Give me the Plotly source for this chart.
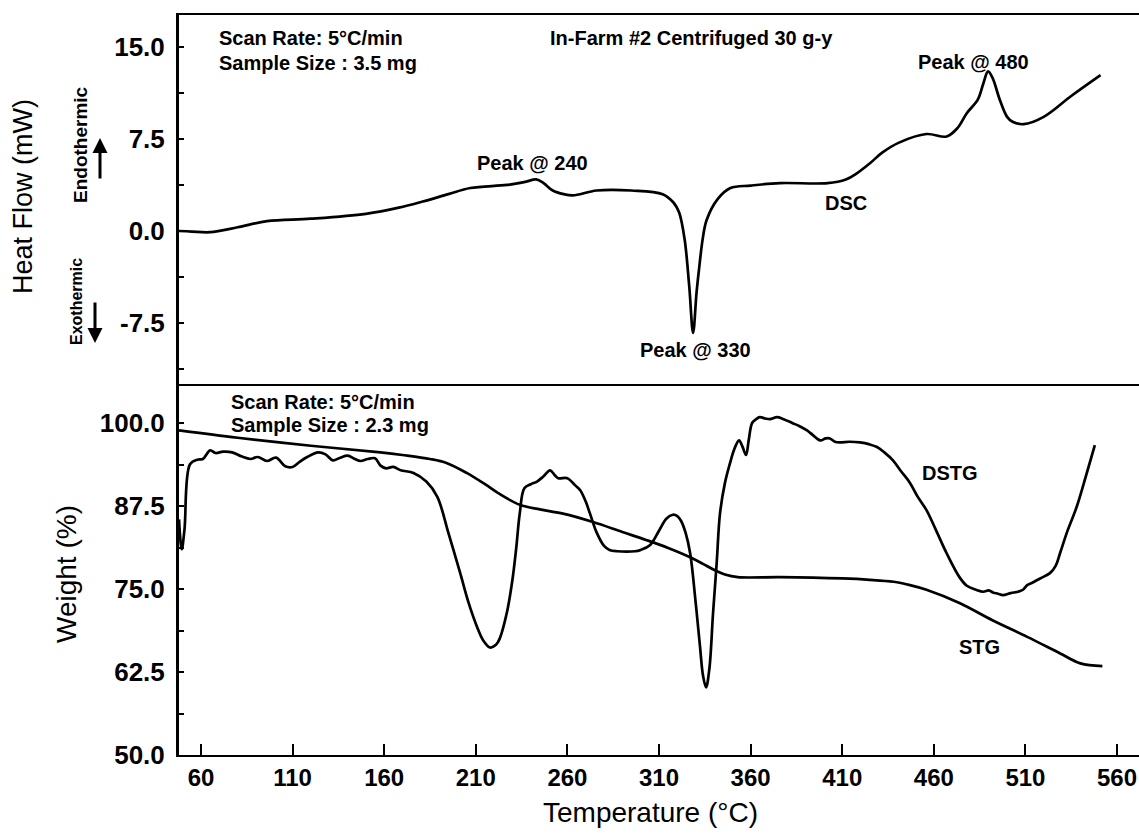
import plotly.graph_objects as go

# ---------------- data ----------------
dsc_temp = [48, 55, 65, 80, 96, 120, 150, 168, 181, 195, 207, 227, 237, 243, 247, 252, 258, 263,
            276, 295, 312, 318, 321, 324, 326.5, 328.6, 330.5, 332, 334, 336, 342, 349, 360, 376,
            402, 412, 418, 425, 432, 441, 456, 467, 473, 478, 484, 487, 489.6, 492, 496, 500, 503,
            509, 520, 535, 551]
dsc_flow = [0.0, -0.05, -0.1, 0.3, 0.8, 1.0, 1.4, 1.9, 2.4, 3.0, 3.5, 3.75, 4.0, 4.2, 3.9, 3.3, 3.0, 2.9,
            3.3, 3.3, 3.0, 2.3, 1.5, -0.7, -4.5, -8.3, -5.0, -2.9, -0.5, 0.9, 2.6, 3.5, 3.7, 3.9,
            3.9, 4.2, 4.7, 5.5, 6.4, 7.2, 7.9, 7.7, 8.4, 9.6, 10.7, 12.0, 13.0, 12.5, 10.7, 9.3, 8.9,
            8.7, 9.3, 11.0, 12.7]

stg_temp = [48, 80, 120, 158, 170, 185, 194, 205, 215, 222, 234, 245, 257, 274, 290, 303, 315, 327,
            334, 340, 346, 353, 376, 410, 425, 438, 447, 456, 474, 492, 511, 529, 540, 552]
stg_weight = [98.9, 97.8, 96.6, 95.6, 95.2, 94.6, 94.0, 92.5, 90.8, 89.5, 87.7, 87.0, 86.4, 85.1, 83.6,
              82.4, 81.2, 79.8, 78.8, 77.9, 77.2, 76.8, 76.8, 76.6, 76.4, 76.1, 75.6, 74.9, 72.9, 70.3,
              67.8, 65.3, 63.8, 63.4]

dstg_temp = [48, 49.5, 51, 54, 58, 61, 65, 68, 72, 77, 82, 87, 91, 96, 101, 106, 110, 114, 118, 124,
             128, 132, 136, 140, 144, 147, 151, 155, 158, 161, 165, 169, 176, 183, 189, 195, 201.5,
             206, 210.7, 214, 217.8, 221, 223, 227, 230, 232, 234, 236.5, 240, 243.4, 247, 250.5,
             253, 255, 260, 264, 267, 270, 272.3, 276, 280, 283, 287, 297, 300, 305, 310, 314,
             317.6, 320, 322, 324.5, 327, 330, 332.4, 334, 335.7, 337.5, 339.5, 341.5, 343.3, 346,
             348.8, 351, 353.7, 355.5, 357.5, 359, 360.8, 363, 365, 368, 370.6, 374.4, 378, 383,
             387, 390.8, 394, 398, 401, 403.3, 406, 408.8, 414, 419.7, 425, 429, 433, 437.7, 442,
             447, 451, 456, 461, 467, 474, 478, 483, 487, 490, 492.3, 495, 497.7, 502, 506, 508.7,
             511, 514, 518, 523.4, 526.5, 528.9, 533, 538, 543, 547.9]
dstg_value = [85.5, 81.0, 84.0, 93.8, 94.5, 94.6, 95.9, 95.5, 95.7, 95.6, 95.0, 94.6, 94.9, 94.3, 94.8,
              93.5, 93.4, 94.2, 94.9, 95.6, 95.3, 94.4, 94.8, 95.1, 94.6, 94.3, 94.6, 94.7, 93.6,
              93.2, 93.4, 92.9, 92.5, 91.2, 88.9, 83.5, 77.4, 73.0, 69.3, 67.3, 66.2, 66.6, 67.5,
              71.5, 76.4, 81.0, 86.4, 90.2, 90.8, 91.2, 92.0, 92.9, 92.2, 91.7, 91.7, 90.7, 89.9,
              88.2, 86.4, 83.5, 81.5, 80.9, 80.7, 80.7, 80.9, 81.6, 83.8, 85.6, 86.2, 86.0, 85.3,
              83.5, 80.4, 73.0, 66.3, 62.0, 60.2, 63.0, 71.4, 79.0, 86.4, 91.0, 94.0, 96.0, 97.4,
              96.5, 95.2, 97.5, 100.0, 100.6, 100.9, 100.7, 100.6, 100.9, 100.6, 100.0, 99.5, 98.9,
              98.2, 97.4, 97.7, 97.7, 97.2, 97.1, 97.2, 97.1, 96.8, 96.4, 95.6, 94.4, 92.8, 91.0,
              89.0, 86.9, 84.0, 80.4, 76.8, 75.5, 74.9, 74.6, 74.8, 74.5, 74.3, 74.1, 74.4, 74.6,
              74.9, 75.6, 76.0, 76.6, 77.4, 78.5, 80.4, 83.8, 87.4, 92.0, 96.7]

x_ticks = [60, 110, 160, 210, 260, 310, 360, 410, 460, 510, 560]
heat_ticks = [-7.5, 0.0, 7.5, 15.0]
heat_tick_labels = ["-7.5", "0.0", "7.5", "15.0"]
heat_minor = [-11.25, -3.75, 3.75, 11.25]
weight_ticks = [50.0, 62.5, 75.0, 87.5, 100.0]
weight_tick_labels = ["50.0", "62.5", "75.0", "87.5", "100.0"]
weight_minor = [56.25, 68.75, 81.25, 93.75]

# ---------------- figure ----------------
FONT = "Liberation Sans, Arial, sans-serif"
W, H = 1139, 835
L, R, T, B = 179, 0, 15, 80
split = 371 / 740

fig = go.Figure()
line_style = dict(color="black", width=2.7)
fig.add_trace(go.Scatter(x=dsc_temp, y=dsc_flow, mode="lines", line=line_style,
                         line_shape="spline", xaxis="x2", yaxis="y2", showlegend=False))
fig.add_trace(go.Scatter(x=stg_temp, y=stg_weight, mode="lines", line=line_style,
                         line_shape="spline", xaxis="x", yaxis="y", showlegend=False))
fig.add_trace(go.Scatter(x=dstg_temp, y=dstg_value, mode="lines", line=line_style,
                         line_shape="spline", xaxis="x", yaxis="y", showlegend=False))

xtickfont = dict(family=FONT, size=24, color="black", weight="bold")
ytickfont = dict(family=FONT, size=26, color="black", weight="bold")
minor_style = dict(ticks="inside", ticklen=5, tickwidth=2, tickcolor="black")

fig.update_layout(
    width=W, height=H,
    margin=dict(l=L, r=R, t=T, b=B, autoexpand=False),
    paper_bgcolor="white", plot_bgcolor="white",
    xaxis=dict(domain=[0, 1], range=[48, 572], anchor="y",
               tickvals=x_ticks, ticks="inside", ticklen=11, tickwidth=2, tickcolor="black",
               showline=True, linecolor="black", linewidth=2, showgrid=False, zeroline=False,
               tickfont=xtickfont),
    xaxis2=dict(domain=[0, 1], range=[48, 572], anchor="y2", matches="x",
                showticklabels=False, ticks="", showline=True, mirror=True,
                linecolor="black", linewidth=2, showgrid=False, zeroline=False),
    yaxis=dict(domain=[0, split], range=[50, 105.9], anchor="x",
               tickvals=weight_ticks, ticktext=weight_tick_labels,
               ticks="inside", ticklen=5, tickwidth=2,
               tickcolor="black", showline=True, linecolor="black", linewidth=3,
               showgrid=False, zeroline=False, tickfont=ytickfont, ticklabelstandoff=6,
               minor=dict(tickvals=weight_minor, **minor_style)),
    yaxis2=dict(domain=[split, 1], range=[-12.47, 17.6], anchor="x2",
                tickvals=heat_ticks, ticktext=heat_tick_labels,
                ticks="inside", ticklen=5, tickwidth=2,
                tickcolor="black", showline=True, linecolor="black", linewidth=3,
                showgrid=False, zeroline=False, tickfont=ytickfont, ticklabelstandoff=6,
                minor=dict(tickvals=heat_minor, **minor_style)),
)

def px(xp):
    # page pixel -> paper x
    return (xp - L) / (W - L - R)

def py(yp):
    # page pixel -> paper y
    return (H - B - yp) / (H - T - B)

bold = dict(family=FONT, size=20, color="black", weight="bold")
ann = []
def note(text, x, y, xref="paper", yref="paper", xanchor="center", font=bold, angle=0):
    ann.append(dict(text=text, x=x, y=y, xref=xref, yref=yref, xanchor=xanchor,
                    yanchor="middle", textangle=angle, showarrow=False, font=font))

# top panel notes
note("Scan Rate: 5°C/min", px(217), py(38), xanchor="left")
note("Sample Size : 3.5 mg", px(217), py(63), xanchor="left")
note("In-Farm #2 Centrifuged 30 g-y", px(548), py(38), xanchor="left")
note("Peak @ 240", 240.7, 5.54, "x2", "y2")
note("Peak @ 330", 329.7, -9.7, "x2", "y2")
note("Peak @ 480", 481.4, 13.77, "x2", "y2")
note("DSC", 412, 2.28, "x2", "y2")
# bottom panel notes
note("Scan Rate: 5°C/min", px(229), py(402), xanchor="left")
note("Sample Size : 2.3 mg", px(229), py(425), xanchor="left")
note("DSTG", 468.8, 92.5, "x", "y")
note("STG", 485.2, 66.3, "x", "y")
# Endo / Exo labels and arrows
note("Endothermic", px(80), py(145), font=dict(family=FONT, size=19, color="black", weight="bold"),
     angle=-90)
note("Exothermic", px(76), py(302), font=dict(family=FONT, size=16, color="black", weight="bold"),
     angle=-90)
ann.append(dict(text="", x=px(100), y=py(138), xref="paper", yref="paper", ax=0, ay=42,
                showarrow=True, arrowhead=2, arrowsize=1, arrowwidth=3, arrowcolor="black"))
ann.append(dict(text="", x=px(95), y=py(343), xref="paper", yref="paper", ax=0, ay=-42,
                showarrow=True, arrowhead=2, arrowsize=1, arrowwidth=3, arrowcolor="black"))
# axis titles
note("Heat Flow (mW)", px(23), py(197), font=dict(family=FONT, size=27, color="black"), angle=-90)
note("Weight (%)", px(66), py(574), font=dict(family=FONT, size=28, color="black"), angle=-90)
note("Temperature (°C)", px(650), py(812), font=dict(family=FONT, size=28, color="black"))
fig.update_layout(annotations=ann)

# remove the default page margin so the figure sits at the window's top-left corner
fig.write_html("out.html", config={"displayModeBar": False},
               post_script="document.body.style.margin='0';document.body.style.overflow='hidden';")
